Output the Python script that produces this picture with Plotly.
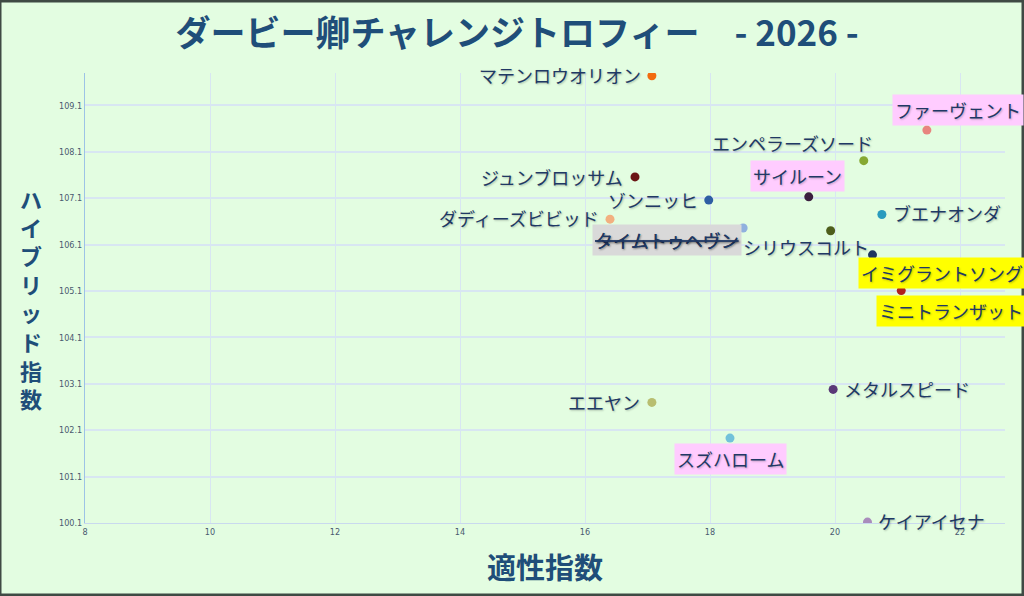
import plotly.graph_objects as go

# 出走馬データ（適性指数 / ハイブリッド指数）
names = ["マテンロウオリオン", "ファーヴェント", "エンペラーズソード", "ジュンブロッサム",
         "サイルーン", "ゾンニッヒ", "ブエナオンダ", "ダディーズビビッド",
         "タイムトゥヘヴン", "シリウスコルト", "イミグラントソング", "ミニトランザット",
         "メタルスピード", "エエヤン", "スズハローム", "ケイアイセナ"]
tekisei = [17.07, 21.47, 20.46, 16.80, 19.58, 17.98, 20.75, 16.40,
           18.53, 19.93, 20.60, 21.06, 19.97, 17.07, 18.32, 20.52]
hybrid = [109.74, 108.57, 107.91, 107.56, 107.13, 107.06, 106.75, 106.65,
          106.46, 106.40, 105.88, 105.11, 102.98, 102.70, 101.93, 100.12]
dot_colors = ["#F26B0F", "#E8857F", "#86A832", "#6B1515", "#3B1F3F", "#2E5EA3",
              "#2A9BBE", "#F2B080", "#8FB0DE", "#4E5E1C", "#1F3560", "#B0201E",
              "#5A3878", "#B8BE70", "#72C2DA", "#A98CBC"]

x_ticks = [8, 10, 12, 14, 16, 18, 20, 22]
y_ticks = [100.1, 101.1, 102.1, 103.1, 104.1, 105.1, 106.1, 107.1, 108.1, 109.1]

title = "ダービー卿チャレンジトロフィー　- 2026 -"
x_title = "適性指数"
y_title = "ハイブリッド指数"

# ラベルの位置・装飾 (xanchor, xshift, yshift, 背景色, 取消線)
PINK = "#FFCCFF"
YELLOW = "#FFFF00"
GRAY = "#D9D9D9"
label_style = {
    "マテンロウオリオン": ("right", -8, 1, None, False),
    "ファーヴェント": ("center", 31, 20, PINK, False),
    "エンペラーズソード": ("right", 12, 18, None, False),
    "ジュンブロッサム": ("right", -9, 0, None, False),
    "サイルーン": ("center", -11, 21, PINK, False),
    "ゾンニッヒ": ("right", -8, 0, None, False),
    "ブエナオンダ": ("left", 8, 1, None, False),
    "ダディーズビビッド": ("right", -8, 1, None, False),
    "タイムトゥヘヴン": ("center", -76, -12, GRAY, True),
    "シリウスコルト": ("center", -25, -16, None, False),
    "イミグラントソング": ("center", 69, -18, YELLOW, False),
    "ミニトランザット": ("center", 50, -20, YELLOW, False),
    "メタルスピード": ("left", 8, 0, None, False),
    "エエヤン": ("right", -9, 0, None, False),
    "スズハローム": ("center", 0, -21, PINK, False),
    "ケイアイセナ": ("left", 7, 1, None, False),
}

BG = "#E3FDE1"
NAVY = "#1F4E79"
LABEL = "#203864"
FONT = "Noto Sans CJK JP"

fig = go.Figure()
fig.add_trace(go.Scatter(
    x=tekisei, y=hybrid, mode="markers",
    marker=dict(size=9, color=dot_colors, line=dict(width=0)),
    hoverinfo="text", text=names, showlegend=False,
))

for n, xv, yv in zip(names, tekisei, hybrid):
    anchor, dx, dy, bg, strike = label_style[n]
    txt = f"<s>{n}</s>" if strike else n
    fig.add_annotation(
        x=xv, y=yv, text=txt, showarrow=False,
        xanchor=anchor, yanchor="middle", xshift=dx, yshift=dy,
        font=dict(family=FONT, size=18, color=LABEL,
                  shadow="1px 1px 2px rgba(0,0,0,0.25)"),
        bgcolor=bg if bg else "rgba(0,0,0,0)", borderpad=2,
    )

# 軸タイトル
fig.add_annotation(
    x=0.5, y=0, xref="paper", yref="paper", yshift=-43,
    text=f"<b>{x_title}</b>", showarrow=False, yanchor="middle",
    font=dict(family=FONT, size=29, color=NAVY),
)
fig.add_annotation(
    x=0, y=0.5, xref="paper", yref="paper", xshift=-54,
    text="<b>" + "<br>".join(list(y_title)) + "</b>", showarrow=False,
    xanchor="center", yanchor="middle",
    font=dict(family=FONT, size=22, color=NAVY),
)

# 外枠
fig.add_shape(type="rect", xref="paper", yref="paper",
              x0=-85 / 920, x1=1 + 18 / 920, y0=-72 / 450, y1=1 + 72 / 450,
              line=dict(color="#3F4A44", width=3), layer="above")

fig.update_layout(
    width=1024, height=596,
    margin=dict(l=85, r=19, t=73, b=73),
    paper_bgcolor=BG, plot_bgcolor=BG,
    title=dict(text=f"<b>{title}</b>", x=0.505, xanchor="center",
               y=1 - 34 / 596, yanchor="middle",
               font=dict(family=FONT, size=35, color=NAVY)),
    font=dict(family=FONT),
)
fig.update_xaxes(
    range=[8, 22.72], tickvals=x_ticks, ticktext=[str(v) for v in x_ticks],
    showgrid=True, gridcolor="#D8E6F2", gridwidth=1,
    zeroline=False, showline=True, linecolor="#C9D9EE", linewidth=1,
    tickfont=dict(family="DejaVu Sans Condensed", size=9, color="#4A5A70"),
    ticks="", ticklen=0,
)
fig.update_yaxes(
    range=[100.1, 109.8], tickvals=y_ticks, ticktext=[f"{v:.1f}" for v in y_ticks],
    showgrid=True, gridcolor="#D8E6F2", gridwidth=2,
    zeroline=False, showline=True, linecolor="#9DC3E6", linewidth=1,
    tickfont=dict(family="DejaVu Sans Condensed", size=9, color="#4A5A70"),
    ticks="", ticklen=0,
)

fig.write_html("out.html", config={"displayModeBar": False},
               post_script="document.body.style.margin='0';")
